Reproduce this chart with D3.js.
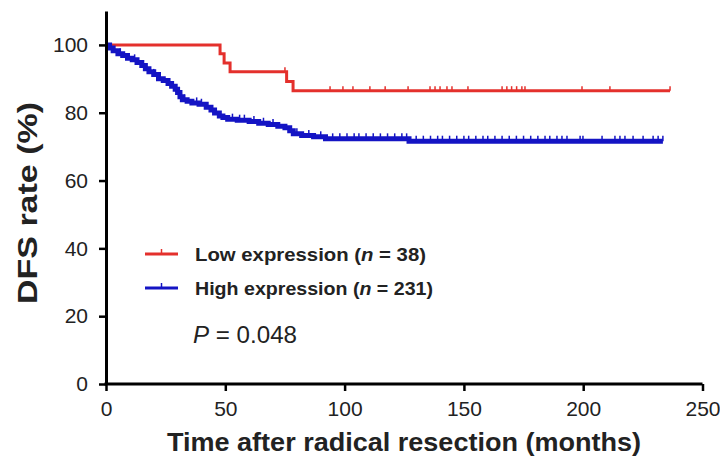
<!DOCTYPE html>
<html>
<head>
<meta charset="utf-8">
<script src="https://cdn.jsdelivr.net/npm/d3@7"></script>
<style>
  body { margin: 0; background: #fff; }
  svg { display: block; font-family: "Liberation Sans", Arial, Helvetica, sans-serif; }
</style>
</head>
<body>
<svg id="chart" width="720" height="459"></svg>
<script>
// axis ticks
const xTicks = [0, 50, 100, 150, 200, 250];
const yTicks = [0, 20, 40, 60, 80, 100];

// Low expression: [month, DFS %] after each event
const lowSteps = [[0, 100], [47.8, 97.4], [49.5, 94.7], [52, 92.1], [75.7, 89.2], [78.4, 86.5]];
const lowEnd = 236.4;
const lowCensored = [75, 93.9, 99.3, 103.5, 110.6, 117, 126.6, 135.8, 137.9, 140, 142.9, 145,
  151.7, 166, 168, 170, 172.1, 174.3, 175.6, 199.5, 211.2, 236.4];

// High expression
const highSteps = [[0, 100], [1.5, 99.1], [3, 98.3], [5, 97.4], [7, 96.9], [9, 96.1], [11, 95.6],
  [13, 94.8], [15, 93.9], [16.5, 93.0], [18, 92.1], [20, 91.3], [22, 90.0], [24, 89.5], [26, 88.6],
  [27.5, 87.8], [29, 86.9], [30, 86.0], [31, 84.7], [32, 83.8], [34, 83.4], [36, 82.9], [39, 82.5],
  [42, 81.6], [44, 80.8], [45.5, 79.9], [47.5, 79.0], [49, 78.6], [51, 78.1], [55, 77.8], [60, 77.4],
  [64, 76.9], [68, 76.5], [72, 76.0], [75, 75.6], [77, 74.7], [78.5, 73.8], [82, 73.3], [87, 72.9],
  [92, 72.3], [127, 71.6]];
const highEnd = 233.4;
const highCensored = [6, 12, 20, 33, 38, 40, 53, 56, 58, 62, 66, 70, 80, 85, 90, 95, 98, 101, 104,
  106, 109, 112, 115, 118, 121, 124, 126, 130, 133, 136, 139, 141, 144, 147, 150, 152, 155, 158,
  160, 163, 166, 169, 172, 175, 178, 181, 184, 186, 189, 191.1, 193.2, 198.7, 199.9, 207.9, 213.3,
  215.4, 217.5, 220.9, 225.1, 229.3, 231.4, 233.4];

const groups = [
  { label: "Low expression", n: 38, color: "#e4302c", width: 3, steps: lowSteps, end: lowEnd, censored: lowCensored },
  { label: "High expression", n: 231, color: "#1414c4", width: 5, steps: highSteps, end: highEnd, censored: highCensored }
];
const pValue = "0.048";

const svg = d3.select("#chart");

const x = d3.scaleLinear().domain([0, 250]).range([106, 702.5]);
const y = d3.scaleLinear().domain([0, 110]).range([384, 11]);

// curves
const line = d3.line()
  .x((d) => x(d[0]))
  .y((d) => y(d[1]))
  .curve(d3.curveStepAfter);

function rateAt(steps, t) {
  const i = d3.bisector((d) => d[0]).right(steps, t) - 1;
  return steps[Math.max(0, i)][1];
}

groups.forEach((g) => {
  const pts = g.steps.concat([[g.end, g.steps[g.steps.length - 1][1]]]);
  svg.append("path")
    .attr("d", line(pts))
    .attr("fill", "none")
    .attr("stroke", g.color)
    .attr("stroke-width", g.width);

  svg.append("g")
    .selectAll("line")
    .data(g.censored)
    .join("line")
    .attr("x1", (d) => x(d))
    .attr("x2", (d) => x(d))
    .attr("y1", (d) => y(rateAt(g.steps, d)))
    .attr("y2", (d) => y(rateAt(g.steps, d)) - g.width / 2 - 3)
    .attr("stroke", g.color)
    .attr("stroke-width", 1.5);
});

// axes
const yAxis = d3.axisLeft(y).tickValues(yTicks).tickSize(7).tickSizeOuter(0).tickPadding(11);
const xAxis = d3.axisBottom(x).tickValues(xTicks).tickSize(7).tickSizeOuter(0).tickPadding(10);

const gy = svg.append("g").attr("transform", "translate(106,0)").call(yAxis);
const gx = svg.append("g").attr("transform", "translate(0,384)").call(xAxis);

[gx, gy].forEach((g) => {
  g.select(".domain").attr("stroke", "#000").attr("stroke-width", 3);
  g.selectAll(".tick line").attr("stroke", "#000").attr("stroke-width", 2.5);
  g.selectAll(".tick text")
    .attr("fill", "#222")
    .style("font-size", "21px")
    .style("font-family", "'Liberation Sans', Arial, sans-serif");
});
gx.select(".domain").attr("d", `M${x(0) - 1.5},0H${x(250)}`);

// axis titles
svg.append("text")
  .attr("transform", "translate(37,203) rotate(-90)")
  .attr("text-anchor", "middle")
  .attr("font-size", 27)
  .attr("font-weight", "bold")
  .attr("fill", "#222")
  .attr("textLength", 202)
  .attr("lengthAdjust", "spacingAndGlyphs")
  .text("DFS rate (%)");

svg.append("text")
  .attr("x", 404)
  .attr("y", 451)
  .attr("text-anchor", "middle")
  .attr("font-size", 25)
  .attr("font-weight", "bold")
  .attr("fill", "#222")
  .attr("textLength", 474)
  .attr("lengthAdjust", "spacingAndGlyphs")
  .text("Time after radical resection (months)");

// legend
const legend = svg.append("g");
groups.forEach((g, i) => {
  const ly = 254 + i * 34;
  legend.append("line")
    .attr("x1", 145).attr("x2", 178)
    .attr("y1", ly).attr("y2", ly)
    .attr("stroke", g.color).attr("stroke-width", 3);
  legend.append("line")
    .attr("x1", 161.5).attr("x2", 161.5)
    .attr("y1", ly).attr("y2", ly - 5)
    .attr("stroke", g.color).attr("stroke-width", 1.5);
  const t = legend.append("text")
    .attr("x", 195)
    .attr("y", ly + 6.5)
    .attr("font-size", 18)
    .attr("font-weight", "bold")
    .attr("fill", "#222")
    .attr("textLength", i === 0 ? 231 : 238)
    .attr("lengthAdjust", "spacingAndGlyphs");
  t.append("tspan").text(g.label + " (");
  t.append("tspan").attr("font-style", "italic").text("n");
  t.append("tspan").text(" = " + g.n + ")");
});

const pt = svg.append("text")
  .attr("x", 193)
  .attr("y", 343)
  .attr("font-size", 23)
  .attr("fill", "#222")
  .attr("textLength", 104)
  .attr("lengthAdjust", "spacingAndGlyphs");
pt.append("tspan").attr("font-style", "italic").text("P");
pt.append("tspan").text(" = " + pValue);
</script>
</body>
</html>
